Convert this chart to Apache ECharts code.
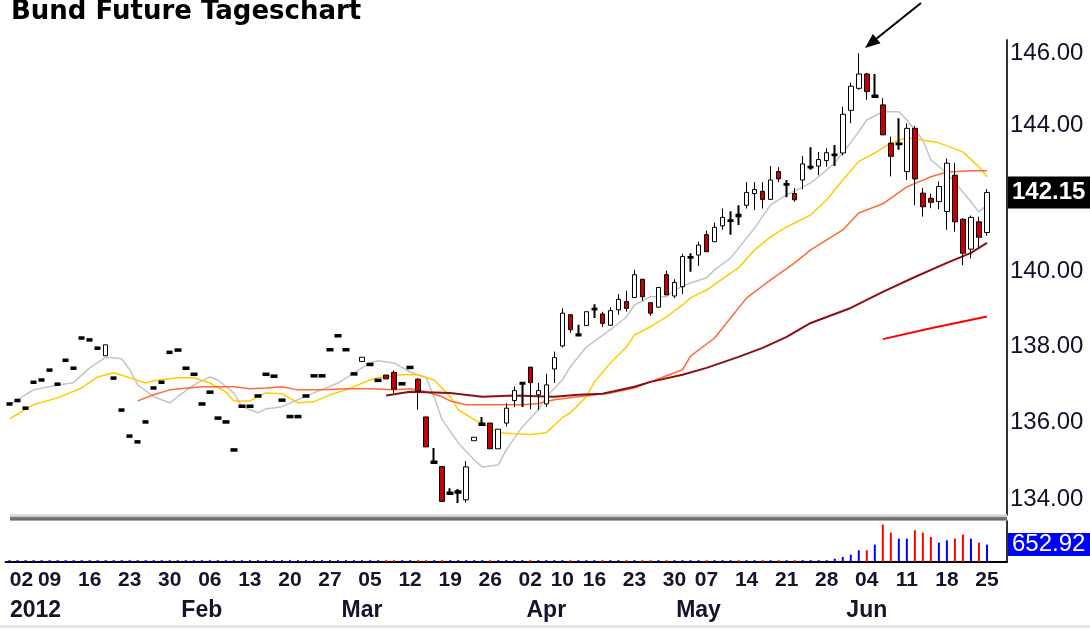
<!DOCTYPE html>
<html><head><meta charset="utf-8">
<script src="https://cdn.jsdelivr.net/npm/echarts@6/dist/echarts.min.js"></script>
<style>html,body{margin:0;padding:0;background:#fff}#c{width:1090px;height:630px}</style>
</head><body><div id="c"></div>
<script>
// ---- categories (trading days 2012) ----
const dates = [
'01-02','01-03','01-04','01-05','01-06','01-09','01-10','01-11','01-12','01-13','01-16','01-17','01-18','01-19','01-20','01-23','01-24','01-25','01-26','01-27','01-30','01-31',
'02-01','02-02','02-03','02-06','02-07','02-08','02-09','02-10','02-13','02-14','02-15','02-16','02-17','02-20','02-21','02-22','02-23','02-24','02-27','02-28','02-29',
'03-01','03-02','03-05','03-06','03-07','03-08','03-09','03-12','03-13','03-14','03-15','03-16','03-19','03-20','03-21','03-22','03-23','03-26','03-27','03-28','03-29','03-30',
'04-02','04-03','04-04','04-05','04-10','04-11','04-12','04-13','04-16','04-17','04-18','04-19','04-20','04-23','04-24','04-25','04-26','04-27','04-30',
'05-02','05-03','05-04','05-07','05-08','05-09','05-10','05-11','05-14','05-15','05-16','05-17','05-18','05-21','05-22','05-23','05-24','05-25','05-28','05-29','05-30','05-31',
'06-01','06-04','06-05','06-06','06-07','06-08','06-11','06-12','06-13','06-14','06-15','06-18','06-19','06-20','06-21','06-22','06-25',
'06-26','06-27'];

// ---- candles: [open, close, low, high] ----
const ohlc = [
[136.47,136.51,136.47,136.51],[136.56,136.6,136.56,136.6],[136.36,136.4,136.36,136.4],[137.04,137.08,137.04,137.08],[137.1,137.14,137.1,137.14],
[137.36,137.4,137.36,137.4],[136.99,137.03,136.99,137.03],[137.62,137.66,137.62,137.66],[137.41,137.45,137.41,137.45],[138.21,138.25,138.21,138.25],
[138.16,138.2,138.16,138.2],[137.94,137.98,137.94,137.98],[137.76,138.05,137.76,138.05],[137.15,137.19,137.15,137.19],[136.31,136.35,136.31,136.35],
[135.63,135.67,135.63,135.67],[135.48,135.52,135.48,135.52],[136.0,136.04,136.0,136.04],[136.89,136.93,136.89,136.93],[137.04,137.08,137.04,137.08],
[137.83,137.87,137.83,137.87],[137.89,137.93,137.89,137.93],[137.41,137.45,137.41,137.45],[137.25,137.29,137.25,137.29],[136.47,136.51,136.47,136.51],
[136.78,136.82,136.78,136.82],[136.1,136.14,136.1,136.14],[136.0,136.04,136.0,136.04],[135.27,135.31,135.27,135.31],[136.41,136.45,136.41,136.45],
[136.41,136.45,136.41,136.45],[136.68,136.72,136.68,136.72],[137.25,137.29,137.25,137.29],[137.2,137.24,137.2,137.24],[136.57,136.61,136.57,136.61],
[136.14,136.18,136.14,136.18],[136.14,136.18,136.14,136.18],[136.68,136.72,136.68,136.72],[137.21,137.25,137.21,137.25],[137.21,137.25,137.21,137.25],
[137.9,137.94,137.9,137.94],[138.27,138.31,138.27,138.31],[137.9,137.94,137.9,137.94],[137.26,137.3,137.26,137.3],[137.61,137.72,137.61,137.72],
[137.51,137.55,137.51,137.55],[137.09,137.13,137.09,137.13],[137.25,137.15,137.15,137.25],[137.32,136.88,136.78,137.37],[137.0,137.04,137.0,137.04],
[137.43,137.47,137.43,137.47],[137.14,136.82,136.34,137.17],[136.15,135.37,135.37,136.15],[134.95,134.99,134.95,135.34],[134.86,133.96,133.96,134.86],
[134.15,134.19,134.13,134.3],[134.18,134.22,133.92,134.28],[134.0,134.85,133.93,135.0],[135.53,135.62,135.53,135.62],[135.94,135.98,135.94,136.15],
[135.99,135.32,135.32,135.99],[135.32,135.83,135.32,135.83],[135.99,136.38,135.9,136.51],[136.58,136.84,136.41,136.95],[137.02,137.05,136.41,137.06],
[137.46,137.05,136.35,137.46],[136.73,136.84,136.33,137.04],[136.49,136.99,136.41,137.28],[137.41,137.71,137.04,137.87],[138.02,138.89,137.98,139.02],
[138.85,138.45,138.37,138.85],[138.3,138.33,138.3,138.58],[138.56,138.93,138.56,138.93],[138.99,139.01,138.76,139.13],[138.87,138.62,138.52,138.93],
[138.57,138.96,138.57,139.05],[138.98,139.26,138.85,139.4],[139.2,139.02,138.93,139.49],[139.31,139.92,139.31,140.05],[139.8,139.33,139.22,139.8],
[139.17,138.89,138.82,139.17],[139.05,139.58,139.05,139.58],[139.92,139.38,139.38,140.03],[139.35,139.71,139.29,139.8],[139.6,140.41,139.4,140.48],
[140.38,140.4,140.0,140.5],[140.45,140.72,140.16,140.81],[141.0,140.54,140.54,141.11],[140.81,141.2,140.81,141.33],[141.24,141.47,141.13,141.71],
[141.37,141.39,141.0,141.64],[141.54,141.5,141.26,141.8],[141.8,142.15,141.71,142.43],[142.12,142.23,141.67,142.43],[142.18,141.96,141.71,142.43],
[141.96,142.49,141.96,142.87],[142.72,142.52,142.43,142.84],[142.36,142.38,142.02,142.49],[142.12,141.95,141.9,142.27],[142.49,142.93,142.23,143.15],
[142.83,142.85,142.77,143.39],[142.87,143.05,142.62,143.26],[143.02,143.24,142.85,143.36],[143.17,143.19,142.87,143.45],[143.23,144.3,143.16,144.51],
[144.41,145.08,144.05,145.18],[145.02,145.42,144.98,146.0],[145.42,144.93,144.7,145.45],[144.78,144.82,144.76,145.42],[144.56,143.73,143.73,144.75],
[143.5,143.14,142.59,143.68],[143.47,143.49,143.32,144.19],[142.72,143.91,142.49,144.05],[143.91,142.52,141.8,143.98],[142.13,141.76,141.49,142.27],
[141.99,141.88,141.72,142.12],[141.9,142.31,141.69,142.45],[141.63,142.95,141.13,143.08],[142.62,141.35,141.08,142.96],[141.42,140.5,140.18,141.45],
[140.61,141.47,140.36,141.52],[141.35,140.93,140.66,141.49],[141.06,142.15,140.97,142.24]];

// ---- volume ----
const volume = [
70,70,70,70,70,70,70,70,70,70,70,70,70,70,70,70,70,70,70,70,
70,70,70,70,70,70,70,70,70,70,70,70,70,70,70,70,70,70,70,70,
70,70,70,70,70,70,70,70,70,70,70,70,70,70,70,70,70,70,70,70,
70,70,70,70,70,70,70,70,70,70,70,70,70,70,70,70,70,70,70,70,
70,70,70,70,70,70,70,70,70,70,70,70,70,70,70,70,70,70,70,72,
72,72,72,126,188,276,440,440,653,1406,1105,879,879,1193,1105,942,728,816,879,1030,
879,728,652.92];

// ---- moving averages: [dayIndex, value] ----
const maGray = [[0,136.47],[3,136.86],[6,136.99],[8,137.05],[10,137.44],[12,137.72],[14,137.68],[15,137.39],[16,136.99],[18,136.68],[20,136.52],[21,136.68],[23,136.99],[25,137.2],[26,137.12],[28,136.78],[29,136.42],[31,136.26],[32,136.36],[34,136.42],[36,136.6],[38,136.78],[41,137.04],[43,137.31],[45,137.57],[46,137.63],[48,137.57],[50,137.33],[52,137.18],[53,136.68],[54,136.08],[56,135.48],[58,135.03],[59,134.85],[61,134.9],[62,135.29],[64,135.89],[66,136.34],[67,136.68],[69,137.12],[70,137.47],[72,137.99],[75,138.45],[77,138.79],[78,139.11],[80,139.33],[82,139.33],[83,139.51],[85,139.7],[87,139.84],[88,140.05],[90,140.37],[91,140.64],[93,141.18],[95,141.81],[97,142.08],[100,142.41],[101,142.58],[103,142.96],[105,143.51],[107,144.14],[109,144.37],[111,144.37],[112,144.14],[114,143.59],[115,143.04],[117,142.68],[119,142.16],[121,141.62],[122,141.81]];
const maYellow = [[0,136.1],[3,136.47],[6,136.65],[9,136.91],[11,137.2],[13,137.31],[15,137.18],[17,137.04],[18,137.1],[21,137.18],[23,137.18],[25,137.04],[27,136.81],[28,136.57],[30,136.57],[32,136.78],[34,136.76],[36,136.52],[38,136.55],[40,136.73],[42,136.86],[45,137.12],[46,137.18],[49,137.26],[51,137.26],[53,137.12],[55,136.68],[56,136.34],[58,136.08],[60,135.87],[61,135.74],[63,135.71],[65,135.69],[67,135.74],[69,136.13],[70,136.26],[72,136.68],[73,137.07],[75,137.57],[77,137.99],[78,138.31],[80,138.53],[82,138.79],[84,139.11],[85,139.3],[87,139.51],[89,139.81],[91,140.11],[93,140.59],[95,140.94],[97,141.21],[100,141.54],[102,141.95],[104,142.49],[106,143.0],[108,143.23],[110,143.51],[112,143.65],[114,143.59],[116,143.51],[119,143.26],[121,142.85],[122,142.58]];
const maOrange = [[16,136.57],[18,136.73],[20,136.86],[24,136.94],[28,136.94],[30,136.89],[32,136.91],[34,136.94],[36,136.86],[39,136.86],[42,136.89],[45,136.89],[48,136.86],[50,136.89],[52,136.81],[54,136.68],[55,136.57],[57,136.47],[59,136.47],[61,136.47],[64,136.47],[66,136.5],[68,136.6],[71,136.68],[75,136.78],[78,136.91],[80,137.07],[82,137.23],[84,137.39],[85,137.75],[88,138.23],[90,138.76],[92,139.3],[95,139.78],[98,140.24],[100,140.59],[102,140.86],[104,141.13],[106,141.59],[109,141.84],[112,142.3],[115,142.58],[117,142.71],[120,142.74],[122,142.74]];
const maDarkRed = [[47,136.71],[50,136.81],[55,136.78],[59,136.68],[63,136.71],[68,136.68],[71,136.73],[74,136.76],[78,136.94],[80,137.07],[84,137.26],[87,137.44],[91,137.73],[94,137.97],[97,138.26],[100,138.63],[105,139.03],[109,139.46],[113,139.86],[117,140.24],[120,140.51],[122,140.78]];
const maRed = [[109,138.2],[115,138.49],[122,138.8]];

// ---- tick labels ----
const priceTicks = [134, 136, 138, 140, 144, 146];
const weekTickIdx = [0,5,10,15,20,25,30,35,40,45,50,55,60,65,69,73,78,83,87,92,97,102,107,112,117,122];
const monthTickIdx = [0, 24, 44, 67, 86, 107];
const monthTickText = ['2012', 'Feb', 'Mar', 'Apr', 'May', 'Jun'];

// ---- build ----
const weekSet = new Set(weekTickIdx);
const monthMap = new Map(monthTickIdx.map((v, k) => [v, monthTickText[k]]));
const candleData = ohlc.map(d => Math.abs(d[1] - d[0]) <= 0.05
  ? { value: d, itemStyle: { color: '#000', color0: '#000', borderWidth: 2 } } : d);
const volData = volume.map((v, i) => ({
  value: v, itemStyle: { color: ohlc[i][1] >= ohlc[i][0] ? '#0000ff' : '#ff0000' }
}));
const lastClose = ohlc[ohlc.length - 1][1];
const lastVol = volume[volume.length - 1];

const lblFont = 'Liberation Sans';
const dayLabel = { fontFamily: lblFont, fontSize: 21, fontWeight: 'bold', color: '#14142c' };
const monLabel = { fontFamily: lblFont, fontSize: 23, fontWeight: 'bold', color: '#14142c' };
function ma(name, data, color, width) {
  return { name, type: 'line', xAxisIndex: 0, yAxisIndex: 0, data, showSymbol: false,
    symbol: 'none', silent: true, z: 2, lineStyle: { color, width } };
}
const hiddenLine = { width: 0, color: 'rgba(0,0,0,0)' };

const chart = echarts.init(document.getElementById('c'));
chart.setOption({
  animation: false,
  backgroundColor: '#ffffff',
  title: {
    text: 'Bund Future Tageschart', left: 11, top: -1, padding: 0,
    textStyle: { fontFamily: 'DejaVu Sans', fontWeight: 'bold', fontSize: 26, color: '#000' }
  },
  grid: [
    { left: 5.5, top: 40, width: 1001.5, height: 475 },
    { left: 5.5, top: 521, width: 1001.5, height: 41 }
  ],
  xAxis: [
    { type: 'category', gridIndex: 0, data: dates, boundaryGap: true,
      axisLine: { show: false }, axisTick: { show: false }, axisLabel: { show: false }, splitLine: { show: false } },
    { type: 'category', gridIndex: 1, data: dates, boundaryGap: true,
      axisLine: { show: true, lineStyle: { color: '#000', width: 2 } }, axisTick: { show: false }, splitLine: { show: false },
      axisLabel: Object.assign({
        interval: (i) => weekSet.has(i), margin: 8, showMinLabel: true,
        formatter: (v, i) => i === 0 ? '{f|' + v.slice(3) + '}' : v.slice(3),
        rich: { f: Object.assign({ padding: [0, 0, 0, 24] }, dayLabel) }
      }, dayLabel) },
    { type: 'category', gridIndex: 1, data: dates, boundaryGap: true, position: 'bottom', offset: 30,
      axisLine: { show: false }, axisTick: { show: false }, splitLine: { show: false },
      axisLabel: Object.assign({
        interval: (i) => monthMap.has(i), margin: 7, showMinLabel: true,
        formatter: (v, i) => i === 0 ? '{f|' + monthMap.get(i) + '}' : (monthMap.get(i) || ''),
        rich: { f: Object.assign({ padding: [0, 0, 0, 52] }, monLabel) }
      }, monLabel) }
  ],
  yAxis: [
    { type: 'log', gridIndex: 0, position: 'right', min: 133.61, max: 146.373,
      axisLine: { show: true, lineStyle: { color: '#333', width: 2 } }, axisTick: { show: false }, splitLine: { show: false },
      axisLabel: { customValues: priceTicks, formatter: (v) => Number(v).toFixed(2), margin: 3,
        fontFamily: lblFont, fontSize: 24, color: '#10102a' } },
    { type: 'value', gridIndex: 1, position: 'right', min: 0, max: 1540,
      axisLine: { show: true, lineStyle: { color: '#333', width: 2 } }, axisTick: { show: false },
      splitLine: { show: false }, axisLabel: { show: false } }
  ],
  series: [
    ma('MA gray', maGray, '#c4c4c4', 1.5),
    ma('MA yellow', maYellow, '#ffcc00', 1.5),
    ma('MA orange', maOrange, '#ff6a3a', 1.5),
    ma('MA darkred', maDarkRed, '#8b1010', 2),
    ma('MA red', maRed, '#ff0000', 2),
    { name: 'Bund', type: 'candlestick', xAxisIndex: 0, yAxisIndex: 0, data: candleData, barWidth: 5, z: 3,
      itemStyle: { color: '#ffffff', color0: '#c80000', borderColor: '#000', borderColor0: '#000', borderWidth: 1 },
      markLine: { silent: true, symbol: 'none', animation: false, z: 10,
        lineStyle: hiddenLine,
        label: { show: true, opacity: 1, position: 'end', distance: 1, formatter: () => lastClose.toFixed(2),
          backgroundColor: '#000', color: '#fff', fontFamily: lblFont, fontSize: 24, fontWeight: 'bold',
          padding: [5, 5, 4, 4], lineHeight: 23 },
        data: [{ yAxis: lastClose }] } },
    { name: 'Volume', type: 'bar', xAxisIndex: 1, yAxisIndex: 1, data: volData, barWidth: 2, silent: true,
      markLine: { silent: true, symbol: 'none', animation: false, z: 10,
        lineStyle: hiddenLine,
        label: { show: true, opacity: 1, position: 'end', distance: 1, formatter: () => lastVol.toFixed(2),
          backgroundColor: '#0000ff', color: '#fff', fontFamily: lblFont, fontSize: 24,
          padding: [0, 5, 0, 4], lineHeight: 23 },
        data: [{ yAxis: lastVol }] } }
  ],
  graphic: [
    { type: 'rect', z: 10, silent: true, shape: { x: 10, y: 514, width: 997, height: 7 },
      style: { fill: { type: 'linear', x: 0, y: 0, x2: 0, y2: 1, colorStops: [
        { offset: 0, color: '#e6e6e6' }, { offset: 0.35, color: '#cfcfcf' }, { offset: 0.5, color: '#7a7a7a' },
        { offset: 0.8, color: '#6a6a6a' }, { offset: 1, color: '#cccccc' }] } } },
    { type: 'rect', silent: true, shape: { x: 0, y: 625, width: 1090, height: 3 }, style: { fill: '#e6e6e6' } },
    { type: 'line', silent: true, shape: { x1: 921, y1: 3, x2: 876, y2: 39 }, style: { stroke: '#000', lineWidth: 2 } },
    { type: 'polygon', silent: true, shape: { points: [[865, 48], [872.9, 33.9], [880.5, 43.3]] }, style: { fill: '#000' } }
  ]
});
</script></body></html>
